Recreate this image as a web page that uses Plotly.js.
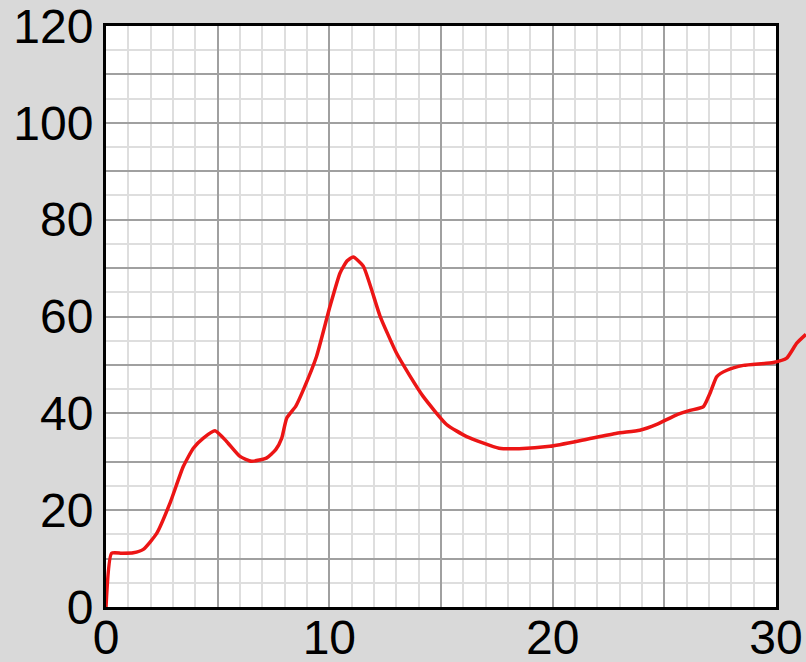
<!DOCTYPE html>
<html>
<head>
<meta charset="utf-8">
<script src="https://cdn.plot.ly/plotly-3.0.1.min.js"></script>
<style>html,body{margin:0;padding:0;background:#d9d9d9;}#chart{width:806px;height:662px;}</style>
</head>
<body>
<div id="chart"></div>
<script>
const xValues = [0, 0.25, 0.7, 1.22, 1.67, 2.27, 2.87, 3.46, 3.91, 4.36, 4.88, 5.4, 6.0, 6.52, 7.2, 7.6, 7.87, 8.09, 8.5, 8.84, 9.43, 10.03, 10.48, 10.8, 11.07, 11.52, 12.27, 13.0, 13.6, 14.2, 15.25, 16.15, 17.6, 18.5, 19.88, 21.37, 22.87, 23.9, 24.66, 25.55, 26.15, 26.75, 27.05, 27.35, 27.8, 28.54, 29.88, 30.48, 30.93, 31.34];
const yValues = [0, 11.1, 11.1, 11.2, 11.9, 15.2, 21.5, 29, 32.8, 34.9, 36.4, 34.2, 31.1, 30.1, 30.8, 32.5, 34.9, 39.0, 41.5, 44.9, 51.8, 62.1, 69.0, 71.5, 72.3, 70.4, 60.1, 52.5, 47.8, 43.5, 37.7, 35.2, 32.8, 32.7, 33.2, 34.5, 35.9, 36.5, 37.7, 39.7, 40.6, 41.4, 44.2, 47.6, 48.9, 49.9, 50.5, 51.4, 54.5, 56.3];
const xTickVals = [0, 5, 10, 15, 20, 25, 30];
const xTickText = ['0', '', '10', '', '20', '', '30'];
const yTickVals = [0, 10, 20, 30, 40, 50, 60, 70, 80, 90, 100, 110, 120];
const yTickText = ['0', '', '20', '', '40', '', '60', '', '80', '', '100', '', '120'];

// Plot box spans x = 0..30 over 670px; the curve continues past the box to the page edge (700px)
const boxWidthPx = 670, fullWidthPx = 700;
const xMax = 30, yMax = 120;

const trace = {
  x: xValues, y: yValues, type: 'scatter', mode: 'lines',
  xaxis: 'x2', yaxis: 'y2',
  line: {color: '#ec1515', width: 3.5, shape: 'spline', smoothing: 0.5},
  cliponaxis: false, hoverinfo: 'skip'
};
const axisCommon = {
  showline: true, mirror: true, linecolor: '#000', linewidth: 3,
  gridcolor: '#a0a0a0', gridwidth: 2, zeroline: false, ticks: '',
  tickfont: {family: 'Liberation Sans, Arial, sans-serif', size: 48, color: '#000'},
  tickmode: 'array', ticklabeloverflow: 'allow'
};
const layout = {
  width: 806, height: 662,
  margin: {l: 106, r: 0, t: 26, b: 55},
  paper_bgcolor: '#d9d9d9', plot_bgcolor: 'rgba(0,0,0,0)',
  showlegend: false,
  shapes: [{type: 'rect', xref: 'x', yref: 'y', x0: 0, x1: xMax, y0: 0, y1: yMax,
            fillcolor: '#ffffff', line: {width: 0}, layer: 'below'}],
  xaxis: Object.assign({}, axisCommon, {
    domain: [0, boxWidthPx / fullWidthPx],
    range: [0, xMax], tickvals: xTickVals, ticktext: xTickText, ticklabelstandoff: -14,
    minor: {dtick: 1, showgrid: true, gridcolor: '#dedede', gridwidth: 2, ticks: ''}
  }),
  yaxis: Object.assign({}, axisCommon, {
    range: [0, yMax], tickvals: yTickVals, ticktext: yTickText,
    minor: {dtick: 5, showgrid: true, gridcolor: '#dedede', gridwidth: 2, ticks: ''}
  }),
  xaxis2: {domain: [0, 1], range: [0, xMax * fullWidthPx / boxWidthPx], anchor: 'y2', visible: false, showgrid: false, zeroline: false},
  yaxis2: {domain: [0, 1], range: [0, yMax], anchor: 'x2', visible: false, showgrid: false, zeroline: false}
};
Plotly.newPlot('chart', [trace], layout, {displayModeBar: false, staticPlot: true});
</script>
</body>
</html>
